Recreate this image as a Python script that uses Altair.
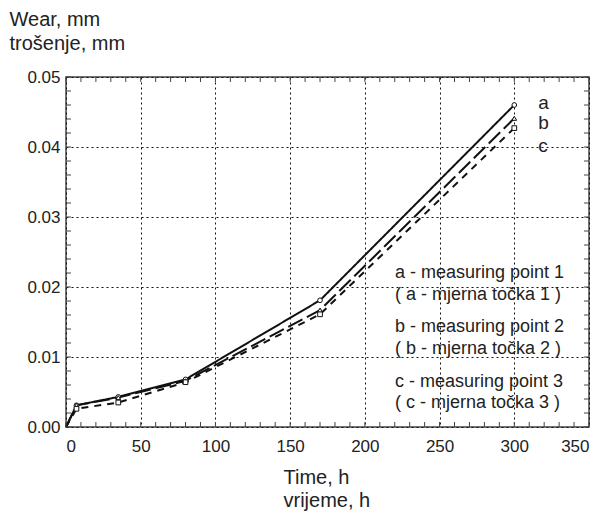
import altair as alt
import pandas as pd

# ---- data ----
time_h = [0, 7, 35, 80, 170, 300]
wear_a = [0.0, 0.0031, 0.0043, 0.0068, 0.0181, 0.0460]
wear_b = [0.0, 0.0031, 0.0042, 0.0066, 0.0167, 0.0441]
wear_c = [0.0, 0.0026, 0.0035, 0.0064, 0.0161, 0.0427]
series_names = ["a", "b", "c"]

x_ticks = [0, 50, 100, 150, 200, 250, 300, 350]
y_ticks = [0.0, 0.01, 0.02, 0.03, 0.04, 0.05]
x_minor = list(range(0, 351, 10))
y_minor = [i / 500 for i in range(0, 26)]

legend_lines = [
    "a - measuring point 1",
    "( a - mjerna točka 1 )",
    "b - measuring point 2",
    "( b - mjerna točka 2 )",
    "c - measuring point 3",
    "( c - mjerna točka 3 )",
]

FONT = "Liberation Sans"
INK = "#222222"
W, H = 523, 350

rows = []
for name, vals in zip(series_names, [wear_a, wear_b, wear_c]):
    for t, v in zip(time_h, vals):
        rows.append({"series": name, "t": t, "wear": v})
df = pd.DataFrame(rows)

xscale = alt.Scale(domain=[0, 350], nice=False, zero=False)
yscale = alt.Scale(domain=[0, 0.05], nice=False)

x_axis = alt.Axis(
    values=x_ticks, grid=True, gridDash=[2, 3], gridColor="#111111", gridWidth=1,
    domain=False, ticks=False, labelFont=FONT, labelFontSize=17, labelColor=INK,
    labelPadding=11, title=["Time, h", "vrijeme, h"], titleFont=FONT, titleFontSize=20,
    titleFontWeight="normal", titleColor=INK, titleAlign="left", titleAnchor="start",
    titleX=217, titleY=56, titleBaseline="alphabetic", titleLineHeight=23,
)
y_axis = alt.Axis(
    values=y_ticks, format=".2f", grid=True, gridDash=[2, 3], gridColor="#111111", gridWidth=1,
    domain=False, ticks=False, labelFont=FONT, labelFontSize=17, labelColor=INK,
    labelPadding=6, title=["Wear, mm", "trošenje, mm"], titleFont=FONT, titleFontSize=20,
    titleFontWeight="normal", titleColor=INK, titleAngle=0, titleAlign="left",
    titleX=-57, titleY=-52, titleBaseline="alphabetic", titleLineHeight=24,
)

styles = {
    "a": {"dash": [1, 0], "shape": "circle", "dy": -2},
    "b": {"dash": [16, 5], "shape": "triangle-up", "dy": 5},
    "c": {"dash": [7, 6], "shape": "square", "dy": 18},
}

base = alt.Chart(df)
layers = []

# axes / grid carrier
layers.append(
    base.mark_line(opacity=0).encode(
        x=alt.X("t:Q", scale=xscale, axis=x_axis),
        y=alt.Y("wear:Q", scale=yscale, axis=y_axis),
    )
)

for name in series_names:
    st = styles[name]
    sub = base.transform_filter(alt.datum.series == name)
    layers.append(
        sub.mark_line(color="#111111", strokeWidth=2, strokeDash=st["dash"]).encode(
            x=alt.X("t:Q", scale=xscale), y=alt.Y("wear:Q", scale=yscale)
        )
    )

for name in series_names:
    st = styles[name]
    sub = base.transform_filter((alt.datum.series == name) & (alt.datum.t > 0))
    layers.append(
        sub.mark_point(shape=st["shape"], filled=True, fill="white", stroke="#111111",
                       strokeWidth=1, size=22, opacity=1).encode(
            x=alt.X("t:Q", scale=xscale), y=alt.Y("wear:Q", scale=yscale)
        )
    )
    layers.append(
        base.transform_filter((alt.datum.series == name) & (alt.datum.t == 300))
        .mark_text(font=FONT, fontSize=19, color=INK, align="left", baseline="middle",
                   dx=24, dy=st["dy"])
        .encode(x=alt.X("t:Q", scale=xscale), y=alt.Y("wear:Q", scale=yscale),
                text=alt.Text("series:N"))
    )

# inward ticks on all four sides
xm = alt.Chart(pd.DataFrame({"t": x_minor}))
ym = alt.Chart(pd.DataFrame({"wear": y_minor}))
tick_style = dict(color="#444444", strokeWidth=1)
layers.append(xm.mark_rule(**tick_style).encode(x=alt.X("t:Q", scale=xscale), y=alt.value(H), y2=alt.value(H - 5)))
layers.append(xm.mark_rule(**tick_style).encode(x=alt.X("t:Q", scale=xscale), y=alt.value(0), y2=alt.value(5)))
layers.append(ym.mark_rule(**tick_style).encode(y=alt.Y("wear:Q", scale=yscale), x=alt.value(0), x2=alt.value(5)))
layers.append(ym.mark_rule(**tick_style).encode(y=alt.Y("wear:Q", scale=yscale), x=alt.value(W - 5), x2=alt.value(W)))

# legend text block
leg_y = [196, 218, 250, 272, 305, 326]
for i, txt in enumerate(legend_lines):
    layers.append(
        alt.Chart(pd.DataFrame({"line": [txt]})).mark_text(
            font=FONT, fontSize=18, color=INK, align="left", baseline="middle"
        ).encode(x=alt.value(329), y=alt.value(leg_y[i]), text="line:N")
    )

chart = alt.layer(*layers).properties(
    width=W, height=H,
    padding={"left": 58, "top": 69, "right": 7, "bottom": 86},
    autosize=alt.AutoSizeParams(type="none"),
    background="white",
).configure_view(stroke="#444444", strokeWidth=1.5)

chart.save("out.html", embed_options={"renderer": "svg", "actions": False})
